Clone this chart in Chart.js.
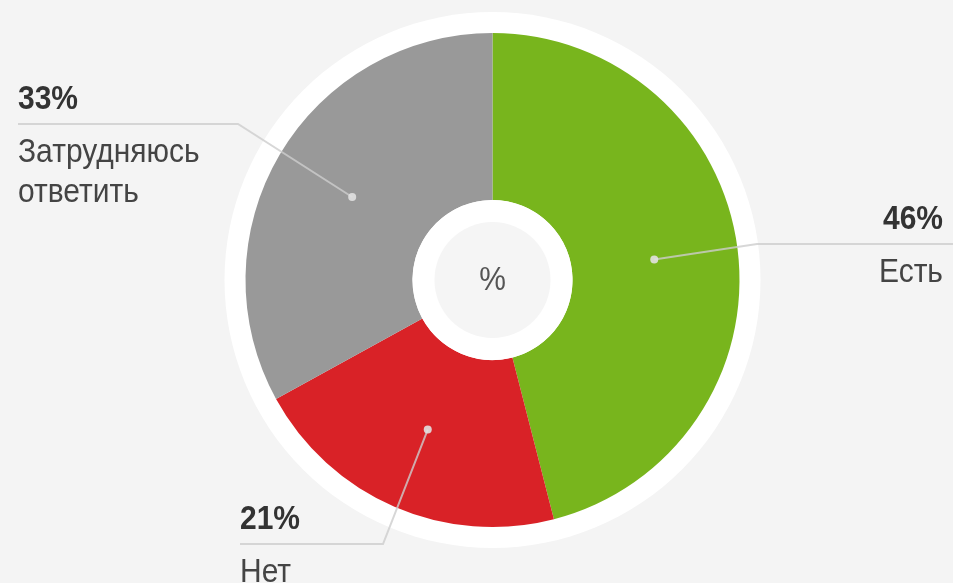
<!DOCTYPE html>
<html>
<head>
<meta charset="utf-8">
<script src="https://cdn.jsdelivr.net/npm/chart.js@4"></script>
<style>
  html, body { margin: 0; padding: 0; background: #f4f4f4; }
  #wrap { width: 953px; height: 583px; }
</style>
</head>
<body>
<div id="wrap"><canvas id="myChart" width="953" height="583"></canvas></div>
<script>
// данные диаграммы
const categories = ['Есть', 'Нет', 'Затрудняюсь ответить'];
const values = [46, 21, 33];
const pctLabels = ['46%', '21%', '33%'];
const labelLines = [['Есть'], ['Нет'], ['Затрудняюсь', 'ответить']];
const colors = ['#78b51d', '#d92227', '#999999'];

// раскладка подписей (где стоит горизонтальная линия и текст)
const calloutLayout = [
  { lineY: 244, elbowX: 757, endX: 953, textX: 943, align: 'right' },
  { lineY: 544, elbowX: 383, endX: 240, textX: 240, align: 'left' },
  { lineY: 124, elbowX: 238, endX: 18,  textX: 18,  align: 'left' }
];

function drawText(ctx, text, x, y, font, color, align) {
  ctx.save();
  ctx.font = font;
  ctx.fillStyle = color;
  ctx.textAlign = align;
  ctx.textBaseline = 'alphabetic';
  ctx.translate(x, y);
  ctx.scale(1, 1.1);
  ctx.fillText(text, 0, 0);
  ctx.restore();
}

// белое кольцо снаружи и центр с "%"
const ringPlugin = {
  id: 'ringPlugin',
  beforeDatasetsDraw(chart) {
    const arc = chart.getDatasetMeta(0).data[0];
    if (!arc) return;
    const ctx = chart.ctx;
    ctx.save();
    ctx.beginPath();
    ctx.arc(arc.x, arc.y, arc.outerRadius + 21, 0, Math.PI * 2);
    ctx.fillStyle = '#ffffff';
    ctx.fill();
    ctx.restore();
  },
  afterDatasetsDraw(chart) {
    const meta = chart.getDatasetMeta(0);
    const first = meta.data[0];
    if (!first) return;
    const ctx = chart.ctx;
    const cx = first.x, cy = first.y;

    ctx.save();
    ctx.beginPath();
    ctx.arc(cx, cy, first.innerRadius, 0, Math.PI * 2);
    ctx.fillStyle = '#ffffff';
    ctx.fill();
    ctx.beginPath();
    ctx.arc(cx, cy, first.innerRadius - 22, 0, Math.PI * 2);
    ctx.fillStyle = '#f5f5f5';
    ctx.fill();
    ctx.restore();
    drawText(ctx, '%', cx, cy + 10, '30px "Liberation Sans", Arial, sans-serif', '#555555', 'center');

    // выноски
    meta.data.forEach((el, i) => {
      const lay = calloutLayout[i];
      const mid = (el.startAngle + el.endAngle) / 2;
      const r = el.outerRadius * 0.66;
      const dx = el.x + Math.cos(mid) * r;
      const dy = el.y + Math.sin(mid) * r;

      ctx.save();
      ctx.strokeStyle = 'rgba(205,205,205,0.8)';
      ctx.lineWidth = 2;
      ctx.beginPath();
      ctx.moveTo(dx, dy);
      ctx.lineTo(lay.elbowX, lay.lineY);
      ctx.lineTo(lay.endX, lay.lineY);
      ctx.stroke();
      ctx.beginPath();
      ctx.arc(dx, dy, 4, 0, Math.PI * 2);
      ctx.fillStyle = 'rgba(225,225,225,0.9)';
      ctx.fill();
      ctx.restore();

      drawText(ctx, pctLabels[i], lay.textX, lay.lineY - 15,
        'bold 30px "Liberation Sans", Arial, sans-serif', '#333333', lay.align);
      labelLines[i].forEach((t, k) => {
        drawText(ctx, t, lay.textX, lay.lineY + 38 + k * 40,
          '30px "Liberation Sans", Arial, sans-serif', '#444444', lay.align);
      });
    });
  }
};

let ctx = document.getElementById('myChart');

let config = {
  type: 'doughnut',
  data: {
    labels: categories,
    datasets: [{
      data: values,
      backgroundColor: colors,
      borderWidth: 0
    }]
  },
  options: {
    responsive: false,
    animation: false,
    radius: 247,
    cutout: '32.4%',
    layout: { padding: { left: 32, right: 0, top: 0, bottom: 23 } },
    plugins: {
      legend: { display: false },
      tooltip: { enabled: false }
    }
  },
  plugins: [ringPlugin]
};

let myChart = new Chart(ctx, config);
</script>
</body>
</html>
